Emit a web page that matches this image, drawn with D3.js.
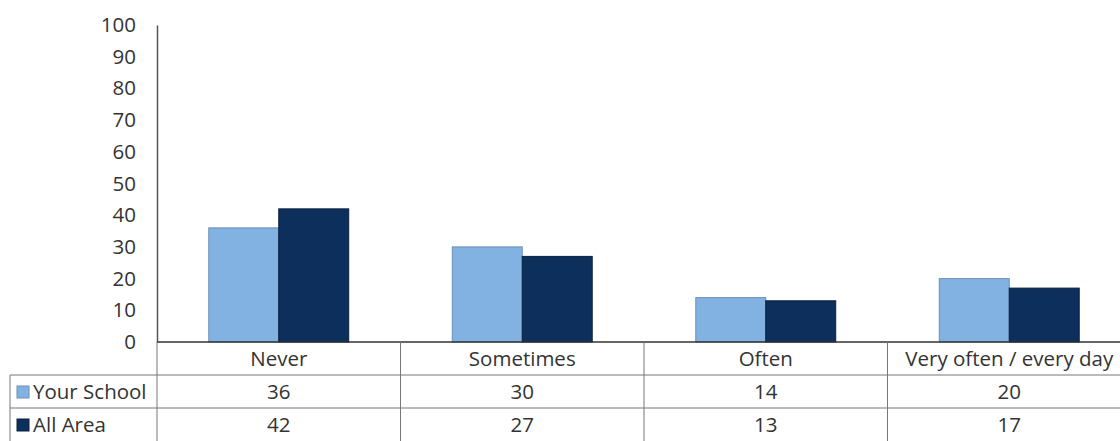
<!DOCTYPE html>
<html>
<head>
<meta charset="utf-8">
<script src="https://cdn.jsdelivr.net/npm/d3@7"></script>
<style>
  body { margin: 0; background: #fff; }
  text { font-family: "Open Sans", Lato, sans-serif; fill: #333; }
</style>
</head>
<body>
<svg id="chart" width="1120" height="441"></svg>
<script>
const categories = ["Never", "Sometimes", "Often", "Very often / every day"]
const seriesNames = ["Your School", "All Area"]
const yourSchool = [36, 30, 14, 20]
const allArea = [42, 27, 13, 17]
const yTicks = [0, 10, 20, 30, 40, 50, 60, 70, 80, 90, 100]

const colors = ["#82b2e2", "#0d2f5b"]
const svg = d3.select("#chart")

const plotLeft = 157, plotRight = 1131, plotTop = 25, plotBottom = 342
const rowH = 33
const fs = 20.5

const x = d3.scaleBand().domain(categories).range([plotLeft, plotRight])
const x1 = d3.scaleBand().domain(seriesNames).range([0, x.bandwidth()]).paddingOuter(0.74)
const y = d3.scaleLinear().domain([0, 100]).range([plotBottom, plotTop])

// y axis
const yAxis = svg.append("g")
    .attr("transform", `translate(${plotLeft},0)`)
    .call(d3.axisLeft(y).tickValues(yTicks).tickSize(0).tickPadding(21))
yAxis.select(".domain").attr("stroke", "#555").attr("stroke-width", 1.5)
yAxis.selectAll("text").attr("font-size", fs).style("font-family", "'Open Sans', sans-serif").style("fill", "#333")

// bars
const data = [yourSchool, allArea]
data.forEach((vals, s) => {
    svg.append("g").selectAll("rect")
        .data(vals)
        .join("rect")
        .attr("x", (d, i) => x(categories[i]) + x1(seriesNames[s]))
        .attr("y", d => y(d))
        .attr("width", x1.bandwidth())
        .attr("height", d => y(0) - y(d))
        .attr("fill", colors[s])
        .attr("stroke", s === 0 ? "#6d8fb5" : "#0a2142")
        .attr("stroke-width", 1)
})

// table lines
const grid = svg.append("g").attr("stroke", "#777").attr("stroke-width", 1)
grid.append("line").attr("x1", plotLeft).attr("x2", 1120).attr("y1", plotBottom).attr("y2", plotBottom).attr("stroke", "#333").attr("stroke-width", 1.5)
grid.append("line").attr("x1", 10).attr("x2", 1120).attr("y1", plotBottom + rowH).attr("y2", plotBottom + rowH)
grid.append("line").attr("x1", 10).attr("x2", 1120).attr("y1", plotBottom + 2 * rowH).attr("y2", plotBottom + 2 * rowH)
grid.append("line").attr("x1", 10).attr("x2", 10).attr("y1", plotBottom + rowH).attr("y2", 441)
grid.append("line").attr("x1", plotLeft).attr("x2", plotLeft).attr("y1", plotBottom).attr("y2", 441)
categories.slice(1).forEach(c => {
    grid.append("line").attr("x1", x(c)).attr("x2", x(c)).attr("y1", plotBottom).attr("y2", 441)
})

// category labels
svg.append("g").selectAll("text")
    .data(categories)
    .join("text")
    .attr("x", d => x(d) + x.bandwidth() / 2)
    .attr("y", plotBottom + rowH / 2 + 7)
    .attr("text-anchor", "middle")
    .attr("font-size", fs)
    .text(d => d)

// value rows with legend keys
data.forEach((vals, s) => {
    const ry = plotBottom + rowH * (s + 1)
    svg.append("rect")
        .attr("x", 17).attr("y", ry + 11)
        .attr("width", 12).attr("height", 12)
        .attr("fill", colors[s])
        .attr("stroke", s === 0 ? "#6d8fb5" : "#0a2142")
    svg.append("text")
        .attr("x", 33).attr("y", ry + rowH / 2 + 7)
        .attr("font-size", fs)
        .text(seriesNames[s])
    svg.append("g").selectAll("text")
        .data(vals)
        .join("text")
        .attr("x", (d, i) => x(categories[i]) + x.bandwidth() / 2)
        .attr("y", ry + rowH / 2 + 7)
        .attr("text-anchor", "middle")
        .attr("font-size", fs)
        .text(d => d)
})
</script>
</body>
</html>
